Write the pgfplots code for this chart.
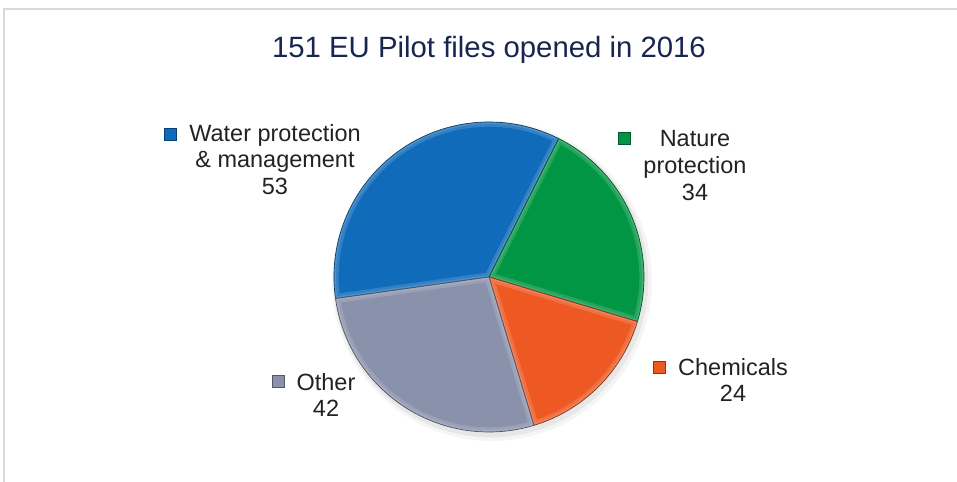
\documentclass[border=0pt]{standalone}
\usepackage{pgfplots}
\pgfplotsset{compat=1.18}
\usepackage{pgfplotstable}
\usepackage{fontspec}
\setmainfont{Liberation Sans}
\definecolor{cWater}{RGB}{16,108,186}
\definecolor{cNature}{RGB}{0,150,68}
\definecolor{cChem}{RGB}{238,88,34}
\definecolor{cOther}{RGB}{137,145,171}
\definecolor{titlec}{RGB}{23,37,80}
\definecolor{labc}{RGB}{34,34,34}
\definecolor{framec}{RGB}{217,217,217}

\pgfplotstableread{
label value
Water 53
Nature 34
Chemicals 24
Other 42
}\piedata

\newcommand\piewedge[2]{(axis cs:489,205) -- ++(#1:116.25pt) arc[start angle=#1, end angle=#2, radius=116.25pt] -- cycle}
\newcommand\slice[3]{%
  \fill[#3] \piewedge{#1}{#2};
  \begin{scope}
    \clip \piewedge{#1}{#2};
    \draw[white, opacity=0.15, line width=7pt, line join=round] \piewedge{#1}{#2};
    \draw[white, opacity=0.12, line width=3pt, line join=round] \piewedge{#1}{#2};
  \end{scope}
  \draw[#3!55!black, line width=0.5pt, line join=round] \piewedge{#1}{#2};
}
\newcommand\key[3]{%
  \fill[#3] (axis cs:#1-6,#2-6) rectangle (axis cs:#1+6,#2+6);
  \draw[#3!60!black, line width=0.4pt] (axis cs:#1-6,#2-6) rectangle (axis cs:#1+6,#2+6);
}

\begin{document}
\begin{tikzpicture}[x=0.75pt,y=0.75pt]
\path[use as bounding box] (0,0) rectangle (957,482);
\pgfplotstablegetelem{0}{value}\of\piedata \let\vA\pgfplotsretval
\pgfplotstablegetelem{1}{value}\of\piedata \let\vB\pgfplotsretval
\pgfplotstablegetelem{2}{value}\of\piedata \let\vC\pgfplotsretval
\pgfplotstablegetelem{3}{value}\of\piedata \let\vD\pgfplotsretval
\pgfmathsetmacro\tot{\vA+\vB+\vC+\vD}
\pgfmathsetmacro\aA{188}
\pgfmathsetmacro\aB{\aA-360/\tot*\vA}
\pgfmathsetmacro\aC{\aB-360/\tot*\vB}
\pgfmathsetmacro\aD{\aC-360/\tot*\vC}
\pgfmathsetmacro\aE{\aD-360/\tot*\vD}
\begin{axis}[at={(0,0)}, anchor=south west, scale only axis,
  width=717.75pt, height=361.5pt,
  xmin=0, xmax=957, ymin=0, ymax=482,
  hide axis, clip=false]
% frame
\draw[framec, line width=1.3pt] (axis cs:4,0) -- (axis cs:4,473) -- (axis cs:957,473);
% shadow
\fill[black, opacity=0.04] (axis cs:492,201) circle[radius=120pt];
\fill[black, opacity=0.06] (axis cs:491,202) circle[radius=118pt];
% slices from data
\slice{\aA}{\aB}{cWater}
\slice{\aB}{\aC}{cNature}
\slice{\aC}{\aD}{cChem}
\slice{\aD}{\aE}{cOther}
% title
\node[anchor=base, text=titlec, font=\fontsize{22}{26}\selectfont] at (axis cs:489,424) {151 EU Pilot files opened in 2016};
% labels
\tikzset{lab/.style={anchor=base, text=labc, font=\fontsize{17.6}{20}\selectfont}}
\key{170}{348}{cWater}
\node[lab] at (axis cs:275,340) {Water protection};
\node[lab] at (axis cs:275,314) {\& management};
\node[lab] at (axis cs:275,287) {\vA};
\key{624.5}{343.5}{cNature}
\node[lab] at (axis cs:695,335.5) {Nature};
\node[lab] at (axis cs:695,308.5) {protection};
\node[lab] at (axis cs:695,281.5) {\vB};
\key{659.5}{115}{cChem}
\node[lab] at (axis cs:733,107) {Chemicals};
\node[lab] at (axis cs:733,80) {\vC};
\key{278}{101}{cOther}
\node[lab] at (axis cs:326,92) {Other};
\node[lab] at (axis cs:326,65) {\vD};
\end{axis}
\end{tikzpicture}
\end{document}
